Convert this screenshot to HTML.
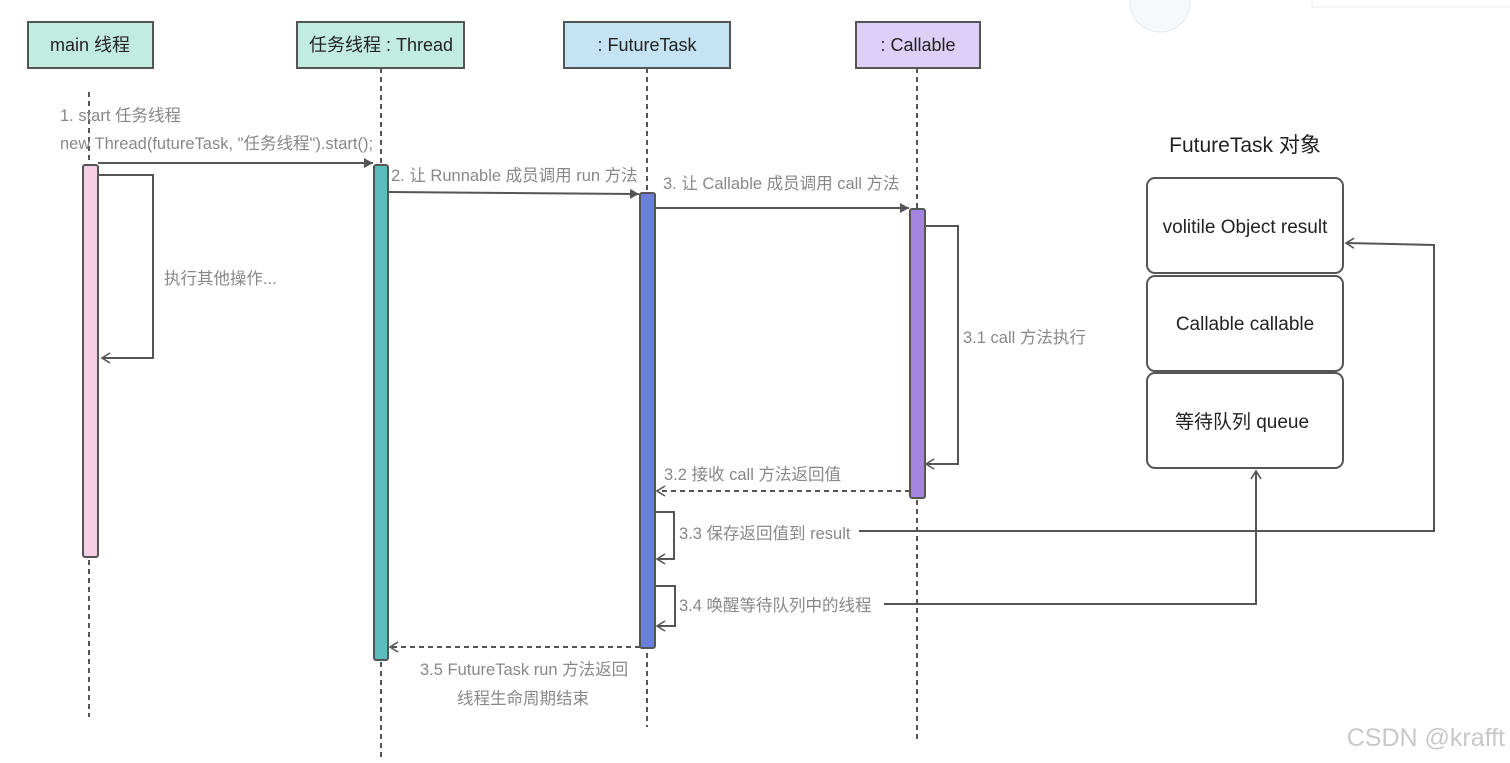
<!DOCTYPE html>
<html><head><meta charset="utf-8"><style>
html,body{margin:0;padding:0;background:#fff;width:1510px;height:763px;overflow:hidden}
svg{display:block}
text{font-family:"Liberation Sans","Noto Sans CJK SC",sans-serif}
</style></head><body>
<svg width="1510" height="763" viewBox="0 0 1510 763" xmlns="http://www.w3.org/2000/svg">
<defs>
<marker id="a" markerWidth="12" markerHeight="12" refX="10" refY="6" orient="auto" markerUnits="userSpaceOnUse">
<path d="M1,1 L10,6 L1,11 Z" fill="#555"/></marker>
<marker id="o" markerWidth="12" markerHeight="12" refX="10" refY="6" orient="auto" markerUnits="userSpaceOnUse">
<path d="M2,1 L10,6 L2,11" fill="none" stroke="#555" stroke-width="1.6"/></marker>
</defs>
<circle cx="1160" cy="2" r="30" fill="#f7f8fa" stroke="#e6e8ec"/>
<rect x="1312" y="-10" width="210" height="17" fill="#fff" stroke="#eee"/>
<g stroke="#555" stroke-width="2" stroke-dasharray="5,4">
<line x1="89" y1="92" x2="89" y2="717"/>
<line x1="381" y1="68" x2="381" y2="757"/>
<line x1="647" y1="68" x2="647" y2="727"/>
<line x1="917" y1="68" x2="917" y2="740"/>
</g>
<g stroke="#555" stroke-width="2">
<rect x="28" y="22" width="125" height="46" fill="#c2ece0"/>
<rect x="297" y="22" width="167" height="46" fill="#c2ece0"/>
<rect x="564" y="22" width="166" height="46" fill="#c4e4f4"/>
<rect x="856" y="22" width="124" height="46" fill="#dcd0f6"/>
</g>
<g font-size="18" fill="#222" text-anchor="middle">
<text x="90" y="51">main 线程</text>
<text x="381" y="51">任务线程 : Thread</text>
<text x="647" y="51">: FutureTask</text>
<text x="918" y="51">: Callable</text>
</g>
<g stroke="#555" stroke-width="2">
<rect x="83" y="165" width="15" height="392" rx="2" fill="#f4cfe4"/>
<rect x="374" y="165" width="14" height="495" rx="2" fill="#5bbdbb"/>
<rect x="640" y="193" width="15" height="455" rx="2" fill="#6a80d8"/>
<rect x="910" y="209" width="15" height="289" rx="2" fill="#a385e0"/>
</g>
<g stroke="#555" stroke-width="2" fill="none">
<line x1="98" y1="163" x2="373" y2="163" marker-end="url(#a)"/>
<polyline points="98,175 153,175 153,358 102,358" marker-end="url(#o)"/>
<line x1="388" y1="192" x2="639" y2="194" marker-end="url(#a)"/>
<line x1="655" y1="208" x2="909" y2="208" marker-end="url(#a)"/>
<polyline points="925,226 958,226 958,464 926,464" marker-end="url(#o)"/>
<line x1="910" y1="491" x2="657" y2="491" stroke-dasharray="5,4" marker-end="url(#o)"/>
<polyline points="655,512 674,512 674,559 657,559" marker-end="url(#o)"/>
<polyline points="655,586 675,586 675,626 657,626" marker-end="url(#o)"/>
<line x1="640" y1="647" x2="390" y2="647" stroke-dasharray="5,4" marker-end="url(#o)"/>
<polyline points="859,531 1434,531 1434,245 1346,243" marker-end="url(#o)"/>
<polyline points="884,604 1256,604 1256,471" marker-end="url(#o)"/>
</g>
<g font-size="16.5" fill="#888">
<text x="60" y="121">1. start 任务线程</text>
<text x="60" y="149">new Thread(futureTask, "任务线程").start();</text>
<text x="391" y="181">2. 让 Runnable 成员调用 run 方法</text>
<text x="663" y="189">3. 让 Callable 成员调用 call 方法</text>
<text x="164" y="284">执行其他操作...</text>
<text x="963" y="343">3.1 call 方法执行</text>
<text x="664" y="480">3.2 接收 call 方法返回值</text>
<text x="679" y="539">3.3 保存返回值到 result</text>
<text x="679" y="611">3.4 唤醒等待队列中的线程</text>
<text x="420" y="675">3.5 FutureTask run 方法返回</text>
<text x="457" y="704">线程生命周期结束</text>
</g>
<text x="1245" y="152" font-size="21" fill="#222" text-anchor="middle">FutureTask 对象</text>
<g stroke="#555" stroke-width="2" fill="#fff">
<rect x="1147" y="178" width="196" height="95" rx="8"/>
<rect x="1147" y="276" width="196" height="95" rx="8"/>
<rect x="1147" y="373" width="196" height="95" rx="8"/>
</g>
<g font-size="19" fill="#222" text-anchor="middle">
<text x="1245" y="233">volitile Object result</text>
<text x="1245" y="330">Callable callable</text>
<text x="1242" y="428">等待队列 queue</text>
</g>
<text x="1505" y="746" font-size="25" fill="#c8c8c8" text-anchor="end">CSDN @krafft</text>
</svg>
</body></html>
